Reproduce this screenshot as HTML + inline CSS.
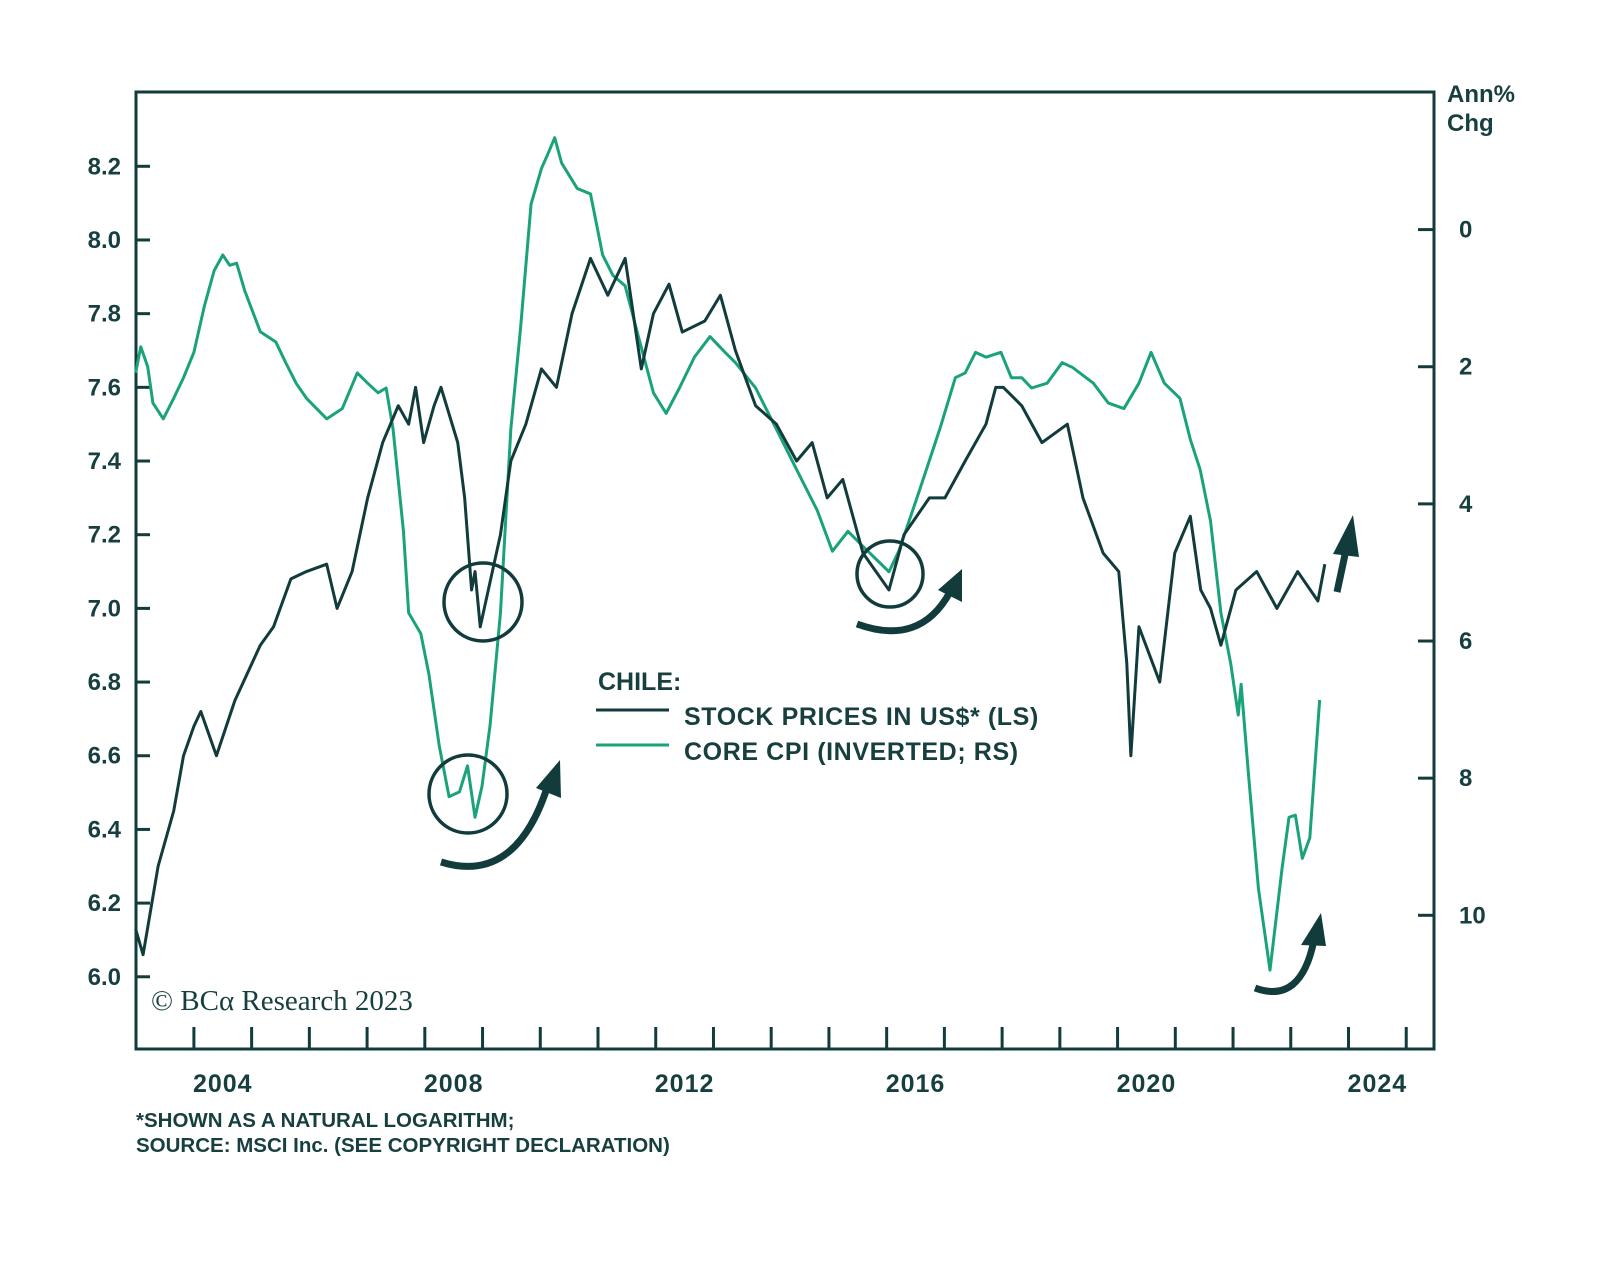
<!DOCTYPE html>
<html><head><meta charset="utf-8"><style>
html,body{margin:0;padding:0;background:#fff;}
svg{display:block;font-family:"Liberation Sans",sans-serif;}
</style></head><body>
<svg id="chart" width="1600" height="1272" viewBox="0 0 1600 1272" xmlns="http://www.w3.org/2000/svg">
<rect x="0" y="0" width="1600" height="1272" fill="#fff"/>
<g id="axes"></g>
<g id="series"></g>
<g id="annot">
<circle cx="483" cy="602" r="39" fill="none" stroke="#123c3c" stroke-width="3.5"/>
<circle cx="468" cy="794" r="39" fill="none" stroke="#123c3c" stroke-width="3.5"/>
<circle cx="890" cy="574" r="33" fill="none" stroke="#123c3c" stroke-width="3.5"/>
<g><path d="M441,862 Q515,885 547,788" fill="none" stroke="#123c3c" stroke-width="7"/><polygon points="560,760 536,788 561,798" fill="#123c3c"/></g>
<g><path d="M857,624 Q920,647 950,592" fill="none" stroke="#123c3c" stroke-width="7"/><polygon points="962,569 938,590 962,602" fill="#123c3c"/></g>
<g><path d="M1255,988 Q1301,1005 1314,940" fill="none" stroke="#123c3c" stroke-width="7"/><polygon points="1321,913 1301,945 1326,946" fill="#123c3c"/></g>
<g><line x1="1337" y1="592" x2="1346" y2="550" stroke="#123c3c" stroke-width="7"/><polygon points="1353,515 1333,554 1359,557" fill="#123c3c"/></g>
</g>
<g fill="#173f3f" font-weight="bold" font-size="25">
<text x="598" y="690">CHILE:</text>
<line x1="596" y1="710" x2="669" y2="710" stroke="#123c3c" stroke-width="3"/>
<text x="684" y="725" letter-spacing="0.6">STOCK PRICES IN US$* (LS)</text>
<line x1="596" y1="745" x2="669" y2="745" stroke="#1aa37a" stroke-width="3"/>
<text x="684" y="760" letter-spacing="0.6">CORE CPI (INVERTED; RS)</text>
</g>
<text x="151" y="1010" font-family="Liberation Serif,serif" font-size="29" fill="#173f3f">© BCα Research 2023</text>
<text x="1447" y="102" font-size="24" font-weight="bold" fill="#173f3f">Ann%</text>
<text x="1447" y="131" font-size="24" font-weight="bold" fill="#173f3f">Chg</text>
<text x="136" y="1127" font-size="20.5" font-weight="bold" fill="#173f3f">*SHOWN AS A NATURAL LOGARITHM;</text>
<text x="136" y="1152" font-size="20.5" font-weight="bold" fill="#173f3f">SOURCE: MSCI Inc. (SEE COPYRIGHT DECLARATION)</text>
</svg>
<script>
const stockYears=[2002.99,2003.12,2003.38,2003.65,2003.82,2004.0,2004.12,2004.39,2004.71,2005.15,2005.38,2005.68,2005.95,2006.30,2006.48,2006.74,2007.01,2007.27,2007.54,2007.72,2007.84,2007.98,2008.16,2008.28,2008.57,2008.69,2008.81,2008.87,2008.96,2009.10,2009.31,2009.49,2009.75,2010.02,2010.28,2010.55,2010.87,2011.17,2011.47,2011.75,2011.96,2012.23,2012.46,2012.85,2013.12,2013.38,2013.73,2014.09,2014.44,2014.71,2014.97,2015.24,2015.59,2016.04,2016.30,2016.74,2017.01,2017.36,2017.72,2017.89,2018.02,2018.34,2018.69,2019.13,2019.40,2019.75,2020.02,2020.16,2020.23,2020.37,2020.73,2020.99,2021.26,2021.44,2021.61,2021.79,2022.05,2022.41,2022.76,2023.12,2023.47,2023.59];
const stockValues=[6.13,6.06,6.3,6.45,6.6,6.68,6.72,6.6,6.75,6.9,6.95,7.08,7.1,7.12,7.0,7.1,7.3,7.45,7.55,7.5,7.6,7.45,7.55,7.6,7.45,7.3,7.05,7.1,6.95,7.05,7.2,7.4,7.5,7.65,7.6,7.8,7.95,7.85,7.95,7.65,7.8,7.88,7.75,7.78,7.85,7.7,7.55,7.5,7.4,7.45,7.3,7.35,7.15,7.05,7.2,7.3,7.3,7.4,7.5,7.6,7.6,7.55,7.45,7.5,7.3,7.15,7.1,6.85,6.6,6.95,6.8,7.15,7.25,7.05,7.0,6.9,7.05,7.1,7.0,7.1,7.02,7.12];
const cpiYears=[2002.99,2003.08,2003.20,2003.29,2003.47,2003.65,2003.82,2004.00,2004.18,2004.35,2004.50,2004.62,2004.74,2004.88,2005.15,2005.42,2005.59,2005.77,2005.95,2006.30,2006.57,2006.83,2007.01,2007.19,2007.33,2007.45,2007.63,2007.72,2007.93,2008.07,2008.25,2008.42,2008.60,2008.74,2008.87,2008.99,2009.13,2009.31,2009.49,2009.66,2009.84,2010.02,2010.14,2010.25,2010.37,2010.64,2010.87,2011.08,2011.26,2011.47,2011.70,2011.96,2012.18,2012.41,2012.67,2012.94,2013.20,2013.38,2013.73,2014.09,2014.44,2014.80,2015.06,2015.33,2015.59,2016.04,2016.21,2016.57,2016.92,2017.19,2017.36,2017.54,2017.72,2017.98,2018.16,2018.34,2018.51,2018.78,2019.04,2019.22,2019.58,2019.84,2020.11,2020.37,2020.58,2020.81,2021.08,2021.26,2021.43,2021.61,2021.79,2021.96,2022.09,2022.14,2022.27,2022.44,2022.64,2022.85,2022.97,2023.08,2023.20,2023.33,2023.50];
const cpiValues=[2.09,1.71,2.0,2.53,2.76,2.46,2.16,1.79,1.12,0.6,0.37,0.52,0.49,0.89,1.49,1.64,1.94,2.24,2.46,2.76,2.61,2.09,2.24,2.38,2.31,2.91,4.4,5.59,5.89,6.48,7.53,8.27,8.2,7.82,8.57,8.12,7.23,5.59,2.91,1.42,-0.37,-0.89,-1.12,-1.34,-0.97,-0.6,-0.52,0.37,0.67,0.82,1.56,2.38,2.68,2.31,1.86,1.56,1.79,1.94,2.31,2.91,3.5,4.1,4.69,4.4,4.62,4.99,4.69,3.8,2.91,2.16,2.09,1.79,1.86,1.79,2.16,2.16,2.31,2.24,1.94,2.01,2.24,2.53,2.61,2.24,1.79,2.24,2.46,3.06,3.5,4.25,5.59,6.33,7.08,6.63,7.97,9.61,10.8,9.31,8.57,8.54,9.17,8.87,6.86];
const leftTicks=[6.0,6.2,6.4,6.6,6.8,7.0,7.2,7.4,7.6,7.8,8.0,8.2];
const rightTicks=[0,2,4,6,8,10];
const yearLabels=[2004,2008,2012,2016,2020,2024];
const yearTicks=[2004,2005,2006,2007,2008,2009,2010,2011,2012,2013,2014,2015,2016,2017,2018,2019,2020,2021,2022,2023,2024,2025];

const NS='http://www.w3.org/2000/svg';
const L=136,R=1434,T=92,B=1049;
const xS=yr=>193.9+(yr-2004)*57.73;
const yL=v=>166.3+(8.2-v)*368.4;
const yR=v=>229.6+v*68.57;
const C='#123c3c';
function mk(tag,attrs,parent){const e=document.createElementNS(NS,tag);for(const k in attrs)e.setAttribute(k,attrs[k]);parent.appendChild(e);return e;}
const ax=document.getElementById('axes');
const frame=mk('rect',{x:L,y:T,width:R-L,height:B-T,fill:'none',stroke:C,'stroke-width':3},ax);


leftTicks.forEach(v=>{
 const y=yL(v);
 const t=mk('line',{x1:L,x2:L+14,y1:y,y2:y,stroke:C,'stroke-width':3},ax);
 
 
 const tx=mk('text',{x:121,y:y+8,'text-anchor':'end','font-size':24,'font-weight':'bold',fill:'#173f3f'},ax);
 tx.textContent=v.toFixed(1);
 
 
});
rightTicks.forEach(v=>{
 const y=yR(v);
 const t=mk('line',{x1:R-16,x2:R,y1:y,y2:y,stroke:C,'stroke-width':3},ax);
 
 
 const tx=mk('text',{x:1459,y:y+8,'font-size':24,'font-weight':'bold',fill:'#173f3f'},ax);
 tx.textContent=String(v);
 
 
});
yearTicks.forEach(yr=>{
 const x=xS(yr);
 const t=mk('line',{x1:x,x2:x,y1:B-22,y2:B,stroke:C,'stroke-width':3},ax);
 
 
});
yearLabels.forEach(yr=>{
 const tx=mk('text',{x:xS(yr+0.5),y:1092,'text-anchor':'middle','font-size':25,'font-weight':'bold','letter-spacing':1,fill:'#173f3f'},ax);
 tx.textContent=String(yr);
 
 
});
const sg=document.getElementById('series');
const gp=mk('polyline',{points:cpiYears.map((yr,i)=>xS(yr)+','+yR(cpiValues[i])).join(' '),fill:'none',stroke:'#1aa37a','stroke-width':3,'stroke-linejoin':'round'},sg);


const bp=mk('polyline',{points:stockYears.map((yr,i)=>xS(yr)+','+yL(stockValues[i])).join(' '),fill:'none',stroke:'#123c3c','stroke-width':3,'stroke-linejoin':'round'},sg);


</script>
</body></html>
